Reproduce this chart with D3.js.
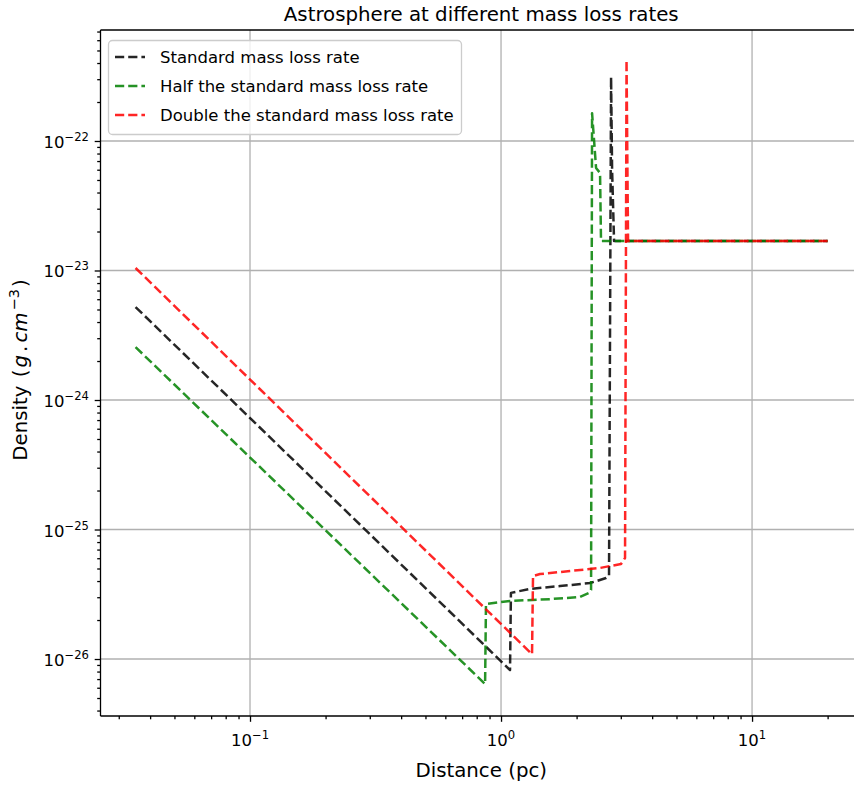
<!DOCTYPE html>
<html><head><meta charset="utf-8">
<script src="https://cdn.jsdelivr.net/npm/d3@7"></script>
<style>body{margin:0;background:#fff} svg{display:block} text{font-family:"DejaVu Sans",sans-serif;fill:#000}</style>
</head><body><svg id="c" width="854" height="787"></svg>
<script>
// ---- data ----
const seriesNames = ["Standard mass loss rate", "Half the standard mass loss rate", "Double the standard mass loss rate"];
const standardDist = [0.035, 1.086, 1.095, 1.305, 1.718, 2.263, 2.62, 2.693, 2.744, 2.77, 2.82, 20];
const standardDens = [5.22e-24, 8.22e-27, 3.24e-26, 3.48e-26, 3.66e-26, 3.86e-26, 4.22e-26, 4.37e-26, 3.12e-22, 5.97e-23, 1.69e-23, 1.69e-23];
const halfDist = [0.035, 0.864, 0.871, 1.086, 1.567, 2.064, 2.242, 2.284, 2.305, 2.347, 2.391, 2.480, 2.502, 20];
const halfDens = [2.56e-24, 6.41e-27, 2.66e-26, 2.81e-26, 2.90e-26, 3.01e-26, 3.24e-26, 3.41e-26, 1.64e-22, 1.02e-22, 6.19e-23, 5.66e-23, 1.69e-23, 1.69e-23];
const doubleDist = [0.035, 1.329, 1.341, 1.430, 1.883, 2.480, 3.006, 3.119, 3.162, 3.206, 20];
const doubleDens = [1.045e-23, 1.09e-26, 4.37e-26, 4.53e-26, 4.78e-26, 5.05e-26, 5.42e-26, 6.03e-26, 4.22e-22, 1.69e-23, 1.69e-23];
const xTickValues = [0.1, 1, 10];
const xTickLabels = ["−1", "0", "1"];
const yTickValues = [1e-22, 1e-23, 1e-24, 1e-25, 1e-26];
const yTickLabels = ["−22", "−23", "−24", "−25", "−26"];
const titleText = "Astrosphere at different mass loss rates";
const xLabelText = "Distance (pc)";

// ---- layout ----
const svg = d3.select("#c");
const L = 100.5, R = 862, T = 30, B = 716;
const x = d3.scaleLog().domain([Math.pow(10, -1.5956), Math.pow(10, 1.438)]).range([L, R]);
const y = d3.scaleLog().domain([Math.pow(10, -26.44), Math.pow(10, -21.143)]).range([B, T]);

const minorVals = (dom) => {
  const out = [];
  const lo = Math.floor(Math.log10(dom[0])), hi = Math.ceil(Math.log10(dom[1]));
  for (let e = lo; e <= hi; e++) for (let m = 2; m <= 9; m++) {
    const v = m * Math.pow(10, e);
    if (v >= dom[0] && v <= dom[1]) out.push(v);
  }
  return out;
};

// grid
const grid = svg.append("g");
grid.selectAll(".gx").data(xTickValues).enter().append("line")
  .attr("x1", d => x(d)).attr("x2", d => x(d)).attr("y1", T).attr("y2", B)
  .attr("stroke", "#b0b0b0").attr("stroke-width", 1.3);
grid.selectAll(".gy").data(yTickValues).enter().append("line")
  .attr("y1", d => y(d)).attr("y2", d => y(d)).attr("x1", L).attr("x2", R)
  .attr("stroke", "#b0b0b0").attr("stroke-width", 1.3);

// axes ticks
const styleAxis = g => { g.select(".domain").remove(); g.selectAll("line").attr("stroke", "#000").attr("stroke-width", 1.3); g.selectAll("text").remove(); };
svg.append("g").attr("transform", `translate(0,${B})`).call(d3.axisBottom(x).tickValues(xTickValues).tickSize(5.8).tickFormat("")).call(styleAxis);
svg.append("g").attr("transform", `translate(0,${B})`).call(d3.axisBottom(x).tickValues(minorVals(x.domain())).tickSize(3.3).tickFormat("")).call(styleAxis);
svg.append("g").attr("transform", `translate(${L},0)`).call(d3.axisLeft(y).tickValues(yTickValues).tickSize(5.8).tickFormat("")).call(styleAxis);
svg.append("g").attr("transform", `translate(${L},0)`).call(d3.axisLeft(y).tickValues(minorVals(y.domain())).tickSize(3.3).tickFormat("")).call(styleAxis);

// tick labels
xTickValues.forEach((v, i) => {
  const t = svg.append("text").attr("x", x(v)).attr("y", 746).attr("text-anchor", "middle").attr("font-size", 16.5);
  t.append("tspan").text("10");
  t.append("tspan").attr("dy", -7).attr("font-size", 11.6).text(xTickLabels[i]);
});
yTickValues.forEach((v, i) => {
  const t = svg.append("text").attr("x", 89).attr("y", y(v) + 7).attr("text-anchor", "end").attr("font-size", 16.5);
  t.append("tspan").text("10");
  t.append("tspan").attr("dy", -7).attr("font-size", 11.6).text(yTickLabels[i]);
});

// lines
svg.append("clipPath").attr("id", "clip").append("rect").attr("x", L).attr("y", T).attr("width", R - L).attr("height", B - T);
const series = [
  { name: seriesNames[0], xs: standardDist, ys: standardDens, color: "#000000" },
  { name: seriesNames[1], xs: halfDist, ys: halfDens, color: "#008000" },
  { name: seriesNames[2], xs: doubleDist, ys: doubleDens, color: "#ff0000" }
];
const line = d3.line().x(d => x(d[0])).y(d => y(d[1]));
const lg = svg.append("g").attr("clip-path", "url(#clip)");
series.forEach(s => {
  lg.append("path").datum(s.xs.map((v, i) => [v, s.ys[i]])).attr("d", line)
    .attr("fill", "none").attr("stroke", s.color).attr("stroke-width", 2.5)
    .attr("stroke-dasharray", "9.2,4").attr("stroke-linejoin", "round").attr("opacity", 0.85);
});

// spines
svg.append("line").attr("x1", L).attr("x2", L).attr("y1", T).attr("y2", B).attr("stroke", "#000").attr("stroke-width", 1.3);
svg.append("line").attr("x1", L).attr("x2", R).attr("y1", B).attr("y2", B).attr("stroke", "#000").attr("stroke-width", 1.3);
svg.append("line").attr("x1", L).attr("x2", R).attr("y1", T).attr("y2", T).attr("stroke", "#000").attr("stroke-width", 1.3);
svg.append("line").attr("x1", R).attr("x2", R).attr("y1", T).attr("y2", B).attr("stroke", "#000").attr("stroke-width", 1.3);

// legend
const leg = svg.append("g");
leg.append("rect").attr("x", 108.5).attr("y", 40.5).attr("width", 353).attr("height", 94).attr("rx", 4)
  .attr("fill", "#fff").attr("fill-opacity", 0.8).attr("stroke", "#cccccc").attr("stroke-width", 1.3);
series.forEach((s, i) => {
  const cy = 57 + i * 29;
  leg.append("line").attr("x1", 115).attr("x2", 145).attr("y1", cy).attr("y2", cy)
    .attr("stroke", s.color).attr("stroke-width", 2.5).attr("stroke-dasharray", "9.2,4").attr("opacity", 0.85);
  leg.append("text").attr("x", 160).attr("y", cy + 6).attr("font-size", 16.5).text(s.name);
});

// title & labels
svg.append("text").attr("x", (L + R) / 2).attr("y", 21).attr("text-anchor", "middle").attr("font-size", 19.8).text(titleText);
svg.append("text").attr("x", (L + R) / 2).attr("y", 777).attr("text-anchor", "middle").attr("font-size", 19.8).text(xLabelText);
const yl = svg.append("text").attr("transform", "translate(27,370) rotate(-90)").attr("text-anchor", "middle").attr("font-size", 19.8);
yl.append("tspan").text("Density ");
yl.append("tspan").attr("dx", 2).text("(");
yl.append("tspan").attr("dx", 2).attr("font-style", "italic").text("g");
yl.append("tspan").attr("dx", 3).text(".");
yl.append("tspan").attr("dx", 3).attr("font-style", "italic").text("cm");
yl.append("tspan").attr("dx", 2).attr("dy", -8).attr("font-size", 14.5).text("−3");
yl.append("tspan").attr("dx", 2).attr("dy", 8).text(")");
</script></body></html>
